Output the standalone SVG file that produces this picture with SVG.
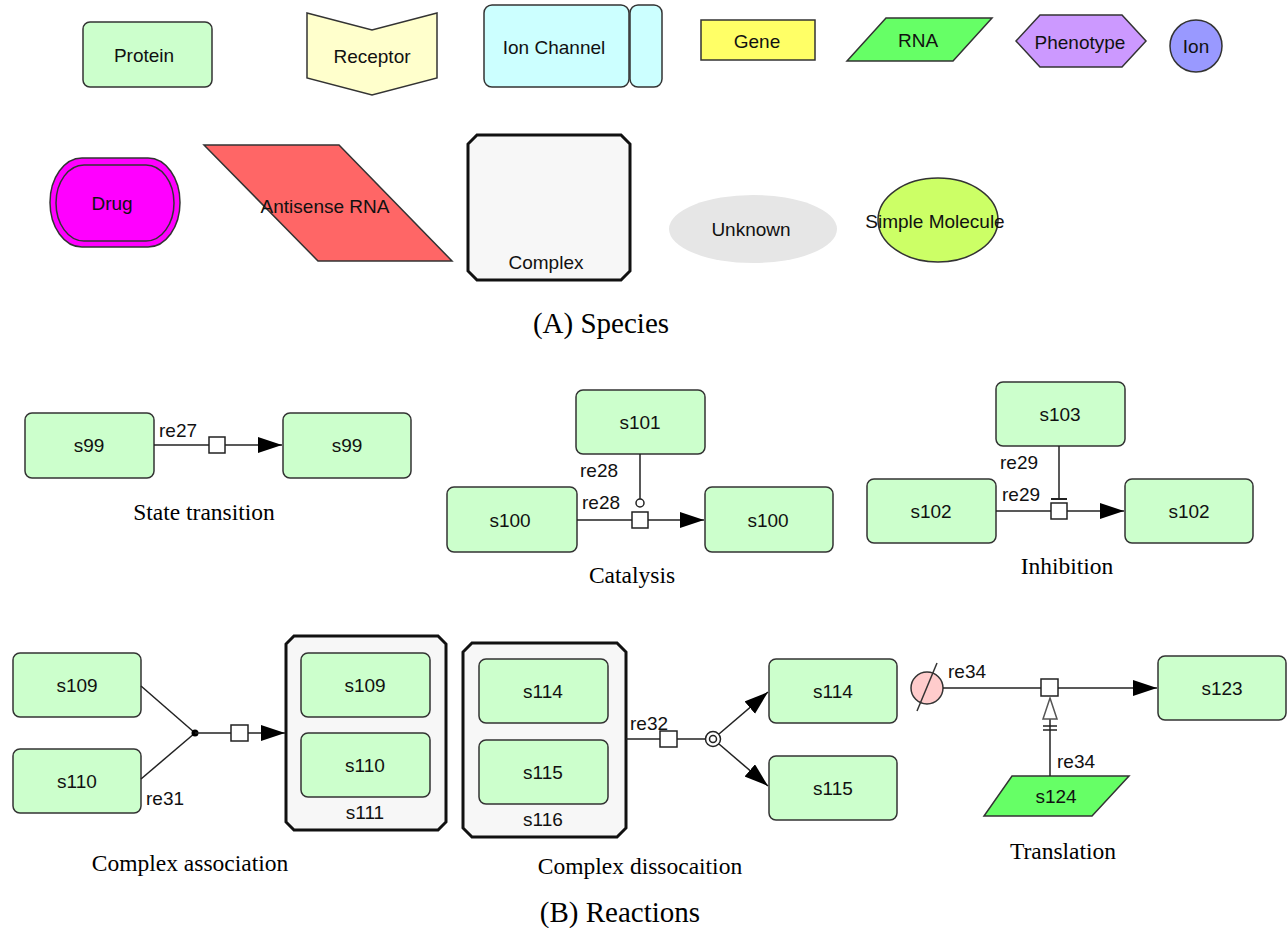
<svg xmlns="http://www.w3.org/2000/svg" width="1287" height="928" viewBox="0 0 1287 928">
<defs>
<style>
.sp{font-family:"Liberation Sans",Arial,sans-serif;font-size:19px;fill:#111;text-anchor:middle}
.lb{font-family:"Liberation Sans",Arial,sans-serif;font-size:19px;fill:#111}
.cap{font-family:"Liberation Serif","Times New Roman",serif;font-size:23.5px;fill:#000;text-anchor:middle}
.big{font-size:29px}
.prot{fill:#ccffcc;stroke:#333;stroke-width:1.5}
.cx{fill:#f7f7f7;stroke:#111;stroke-width:3}
.ln{fill:none;stroke:#222;stroke-width:1.5}
.sq{fill:#fff;stroke:#222;stroke-width:1.5}
</style>
<marker id="ah" markerUnits="userSpaceOnUse" markerWidth="26" markerHeight="18" refX="24" refY="8" orient="auto">
<path d="M0,0 L24,8 L0,16 z" fill="#000"/>
</marker>
</defs>
<rect width="1287" height="928" fill="#fff"/>

<!-- (A) Species -->
<g id="protein"><rect class="prot" x="83" y="22" width="129" height="65" rx="7"/><text class="sp" x="144" y="62">Protein</text></g>
<g id="receptor"><polygon points="307,13 372,30 437,13 437,78 372,95 307,78" fill="#ffffcc" stroke="#333" stroke-width="1.5"/><text class="sp" x="372" y="63">Receptor</text></g>
<g id="ionchannel"><rect x="484" y="5" width="145" height="82" rx="8" fill="#ccffff" stroke="#333" stroke-width="1.5"/><rect x="630" y="5" width="32" height="82" rx="8" fill="#ccffff" stroke="#333" stroke-width="1.5"/><text class="sp" x="554" y="54">Ion Channel</text></g>
<g id="gene"><rect x="701" y="20" width="114" height="40" fill="#ffff66" stroke="#333" stroke-width="1.5"/><text class="sp" x="757" y="48">Gene</text></g>
<g id="rna"><polygon points="886,18 992,18 953,61 847,61" fill="#66ff66" stroke="#333" stroke-width="1.5"/><text class="sp" x="918" y="47">RNA</text></g>
<g id="phenotype"><polygon points="1016,41 1040,15 1122,15 1146,41 1122,67 1040,67" fill="#cc99ff" stroke="#333" stroke-width="1.5"/><text class="sp" x="1080" y="49">Phenotype</text></g>
<g id="ion"><circle cx="1196" cy="46" r="26" fill="#9999ff" stroke="#333" stroke-width="1.5"/><text class="sp" x="1196" y="53">Ion</text></g>
<g id="drug"><path d="M82,158 H148 A32,44.5 0 0 1 148,247 H82 A32,44.5 0 0 1 82,158 z" fill="#ff00ff" stroke="#333" stroke-width="1.5"/><path d="M84,165 H146 A28,38 0 0 1 146,241 H84 A28,38 0 0 1 84,165 z" fill="#ff00ff" stroke="#333" stroke-width="1.5"/><text class="sp" x="112" y="210">Drug</text></g>
<g id="antisense"><polygon points="204,145 339,145 452,261 318,261" fill="#ff6666" stroke="#333" stroke-width="1.5"/><text class="sp" x="325" y="213">Antisense RNA</text></g>
<g id="complex"><path class="cx" d="M477,135 H621 L630,144 V271 L621,280 H477 L468,271 V144 z"/><text class="sp" x="546" y="269">Complex</text></g>
<g id="unknown"><ellipse cx="753" cy="229" rx="84" ry="34" fill="#e6e6e6"/><text class="sp" x="751" y="236">Unknown</text></g>
<g id="simplemolecule"><ellipse cx="938" cy="220" rx="60" ry="42" fill="#ccff66" stroke="#333" stroke-width="1.5"/><text class="sp" x="935" y="228">Simple Molecule</text></g>
<text class="cap big" x="601" y="333">(A) Species</text>

<!-- (B) Reactions: nodes -->
<g id="s99a"><rect class="prot" x="25" y="413" width="129" height="65" rx="7"/><text class="sp" x="89" y="452">s99</text></g>
<g id="s99b"><rect class="prot" x="283" y="413" width="128" height="65" rx="7"/><text class="sp" x="347" y="452">s99</text></g>
<text class="cap" x="204" y="520">State transition</text>

<g id="s101"><rect class="prot" x="576" y="390" width="129" height="64" rx="7"/><text class="sp" x="640" y="429">s101</text></g>
<g id="s100a"><rect class="prot" x="447" y="487" width="130" height="65" rx="7"/><text class="sp" x="510" y="527">s100</text></g>
<g id="s100b"><rect class="prot" x="705" y="487" width="128" height="65" rx="7"/><text class="sp" x="768" y="527">s100</text></g>
<text class="cap" x="632" y="583">Catalysis</text>

<g id="s103"><rect class="prot" x="996" y="382" width="129" height="64" rx="7"/><text class="sp" x="1060" y="421">s103</text></g>
<g id="s102a"><rect class="prot" x="867" y="479" width="129" height="64" rx="7"/><text class="sp" x="931" y="518">s102</text></g>
<g id="s102b"><rect class="prot" x="1125" y="479" width="128" height="64" rx="7"/><text class="sp" x="1189" y="518">s102</text></g>
<text class="cap" x="1067" y="574">Inhibition</text>

<g id="s109"><rect class="prot" x="13" y="653" width="128" height="64" rx="7"/><text class="sp" x="77" y="692">s109</text></g>
<g id="s110"><rect class="prot" x="13" y="749" width="128" height="64" rx="7"/><text class="sp" x="77" y="788">s110</text></g>
<g id="s111"><path class="cx" d="M294,636 H438 L446,644 V822 L438,830 H294 L286,822 V644 z"/><rect class="prot" x="301" y="653" width="129" height="64" rx="7"/><text class="sp" x="365" y="692">s109</text><rect class="prot" x="301" y="733" width="129" height="64" rx="7"/><text class="sp" x="365" y="772">s110</text><text class="sp" x="365" y="819">s111</text></g>
<text class="cap" x="190" y="871">Complex association</text>

<g id="s116"><path class="cx" d="M472,643 H617 L626,652 V828 L617,837 H472 L463,828 V652 z"/><rect class="prot" x="479" y="659" width="129" height="64" rx="7"/><text class="sp" x="543" y="698">s114</text><rect class="prot" x="479" y="740" width="129" height="64" rx="7"/><text class="sp" x="543" y="779">s115</text><text class="sp" x="543" y="826">s116</text></g>
<g id="s114"><rect class="prot" x="769" y="659" width="128" height="64" rx="7"/><text class="sp" x="833" y="698">s114</text></g>
<g id="s115"><rect class="prot" x="769" y="756" width="128" height="64" rx="7"/><text class="sp" x="833" y="795">s115</text></g>
<text class="cap" x="640" y="874">Complex dissocaition</text>

<g id="degraded"><circle cx="927" cy="688" r="16" fill="#ffcccc" stroke="#333" stroke-width="1.5"/><line x1="917" y1="711" x2="937" y2="663" stroke="#333" stroke-width="1.5"/></g>
<g id="s123"><rect class="prot" x="1158" y="656" width="128" height="64" rx="7"/><text class="sp" x="1222" y="695">s123</text></g>
<g id="s124"><polygon points="1012,776 1129,776 1092,816 984,816" fill="#66ff66" stroke="#333" stroke-width="1.5"/><text class="sp" x="1056" y="803">s124</text></g>
<text class="cap" x="1063" y="859">Translation</text>
<text class="cap big" x="620" y="922">(B) Reactions</text>

<!-- connectors -->
<g id="connectors">
<line class="ln" x1="154" y1="445" x2="282" y2="445" marker-end="url(#ah)"/>
<rect class="sq" x="209" y="437" width="16" height="16"/>
<text class="lb" x="159" y="437">re27</text>

<line class="ln" x1="577" y1="520" x2="704" y2="520" marker-end="url(#ah)"/>
<line class="ln" x1="640" y1="454" x2="640" y2="499"/>
<circle cx="640" cy="503" r="4" fill="#fff" stroke="#222" stroke-width="1.5"/>
<rect class="sq" x="632" y="512" width="16" height="16"/>
<text class="lb" x="580" y="477">re28</text>
<text class="lb" x="582" y="509">re28</text>

<line class="ln" x1="996" y1="511" x2="1124" y2="511" marker-end="url(#ah)"/>
<line class="ln" x1="1059" y1="446" x2="1059" y2="499"/>
<line x1="1051" y1="499" x2="1067" y2="499" stroke="#222" stroke-width="2"/>
<rect class="sq" x="1051" y="503" width="16" height="16"/>
<text class="lb" x="1000" y="469">re29</text>
<text class="lb" x="1002" y="501">re29</text>

<line class="ln" x1="141" y1="686" x2="195" y2="733"/>
<line class="ln" x1="141" y1="779" x2="195" y2="733"/>
<circle cx="195" cy="733" r="3.5" fill="#000"/>
<line class="ln" x1="195" y1="733" x2="285" y2="733" marker-end="url(#ah)"/>
<rect class="sq" x="231" y="725" width="17" height="16"/>
<text class="lb" x="146" y="805">re31</text>

<line class="ln" x1="626" y1="739" x2="705" y2="739"/>
<rect class="sq" x="660" y="731" width="17" height="16"/>
<circle cx="713" cy="739" r="7.5" fill="#fff" stroke="#222" stroke-width="1.5"/>
<circle cx="713" cy="739" r="3.5" fill="#fff" stroke="#222" stroke-width="1.5"/>
<line class="ln" x1="719" y1="734" x2="768" y2="692" marker-end="url(#ah)"/>
<line class="ln" x1="719" y1="744" x2="768" y2="786" marker-end="url(#ah)"/>
<text class="lb" x="630" y="730">re32</text>

<line class="ln" x1="943" y1="688" x2="1157" y2="688" marker-end="url(#ah)"/>
<rect class="sq" x="1041" y="679" width="17" height="17"/>
<line class="ln" x1="1050" y1="776" x2="1050" y2="719"/>
<polygon points="1050,698 1057,719 1043,719" fill="#fff" stroke="#555" stroke-width="1.5"/>
<line x1="1043" y1="726" x2="1057" y2="726" stroke="#222" stroke-width="1.5"/>
<line x1="1043" y1="730" x2="1057" y2="730" stroke="#222" stroke-width="1.5"/>
<text class="lb" x="948" y="678">re34</text>
<text class="lb" x="1057" y="768">re34</text>
</g>
</svg>
